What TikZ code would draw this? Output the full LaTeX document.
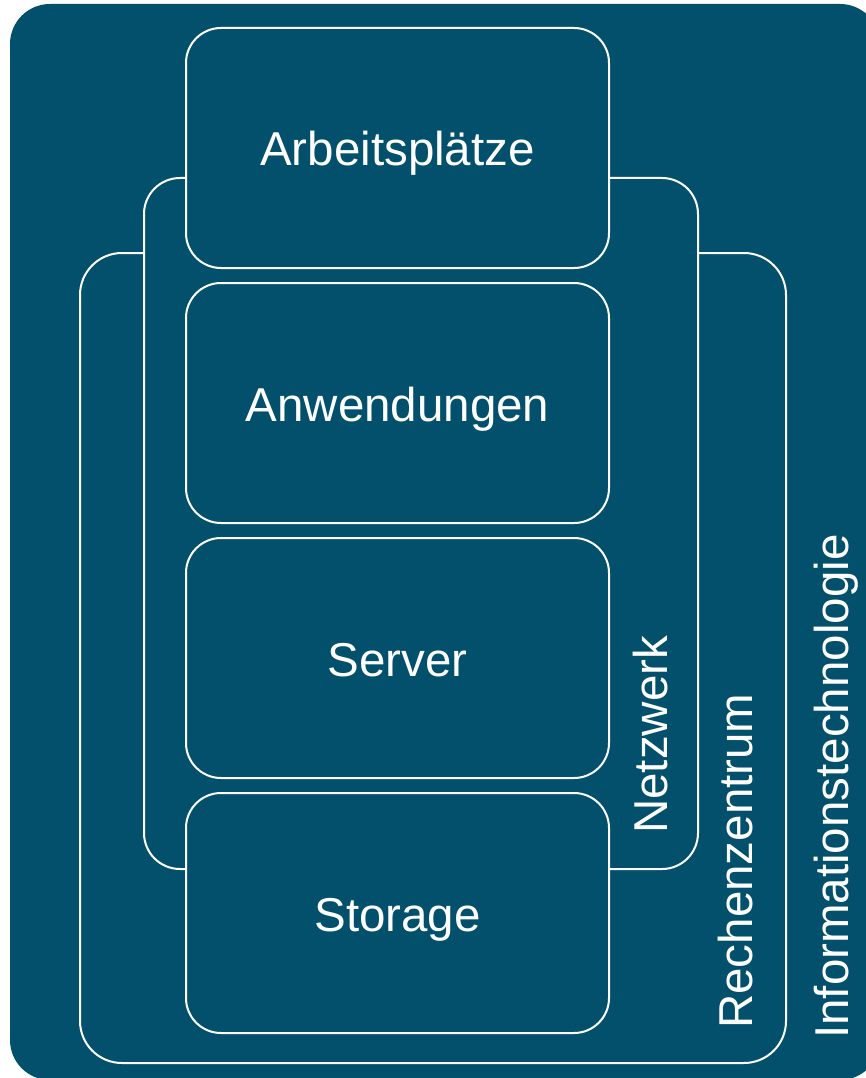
\documentclass[tikz,border=0pt]{standalone}
\usepackage{fontspec}
\setmainfont{Liberation Sans}
\definecolor{bg}{RGB}{2,80,108}
\begin{document}
\begin{tikzpicture}[x=1pt,y=-1pt,
  frame/.style={draw=white, line width=2pt, fill=bg},
  lbl/.style={text=white, font=\fontsize{47.5}{52}\selectfont, inner sep=0pt}]
\useasboundingbox (0,0) rectangle (866,1078);
\fill[bg, rounded corners=40] (10,4) rectangle (880,1080);
% Rechenzentrum
\draw[frame, rounded corners=42] (80,253) rectangle (786,1063);
% Netzwerk
\draw[frame, rounded corners=36] (144,178) rectangle (698,869);
% layers
\draw[frame, rounded corners=35] (186,28) rectangle (609,268);
\draw[frame, rounded corners=35] (186,283) rectangle (609,523);
\draw[frame, rounded corners=35] (186,538) rectangle (609,778);
\draw[frame, rounded corners=35] (186,793) rectangle (609,1033);
\node[lbl, anchor=base] (arb) at (397.5,166) {Arbeitsplätze};
\node[lbl, anchor=base] (anw) at (397.5,421) {Anwendungen};
\node[lbl, anchor=base] (srv) at (397.5,676) {Server};
\node[lbl, anchor=base] (sto) at (397.5,931) {Storage};
\node[lbl, rotate=90, anchor=base west] (net) at (667,834) {Netzwerk};
\node[lbl, rotate=90, anchor=base west] (rz) at (752,1029) {Rechenzentrum};
\node[lbl, rotate=90, anchor=base west] (it) at (848,1039) {Informationstechnologie};
\end{tikzpicture}
\end{document}
